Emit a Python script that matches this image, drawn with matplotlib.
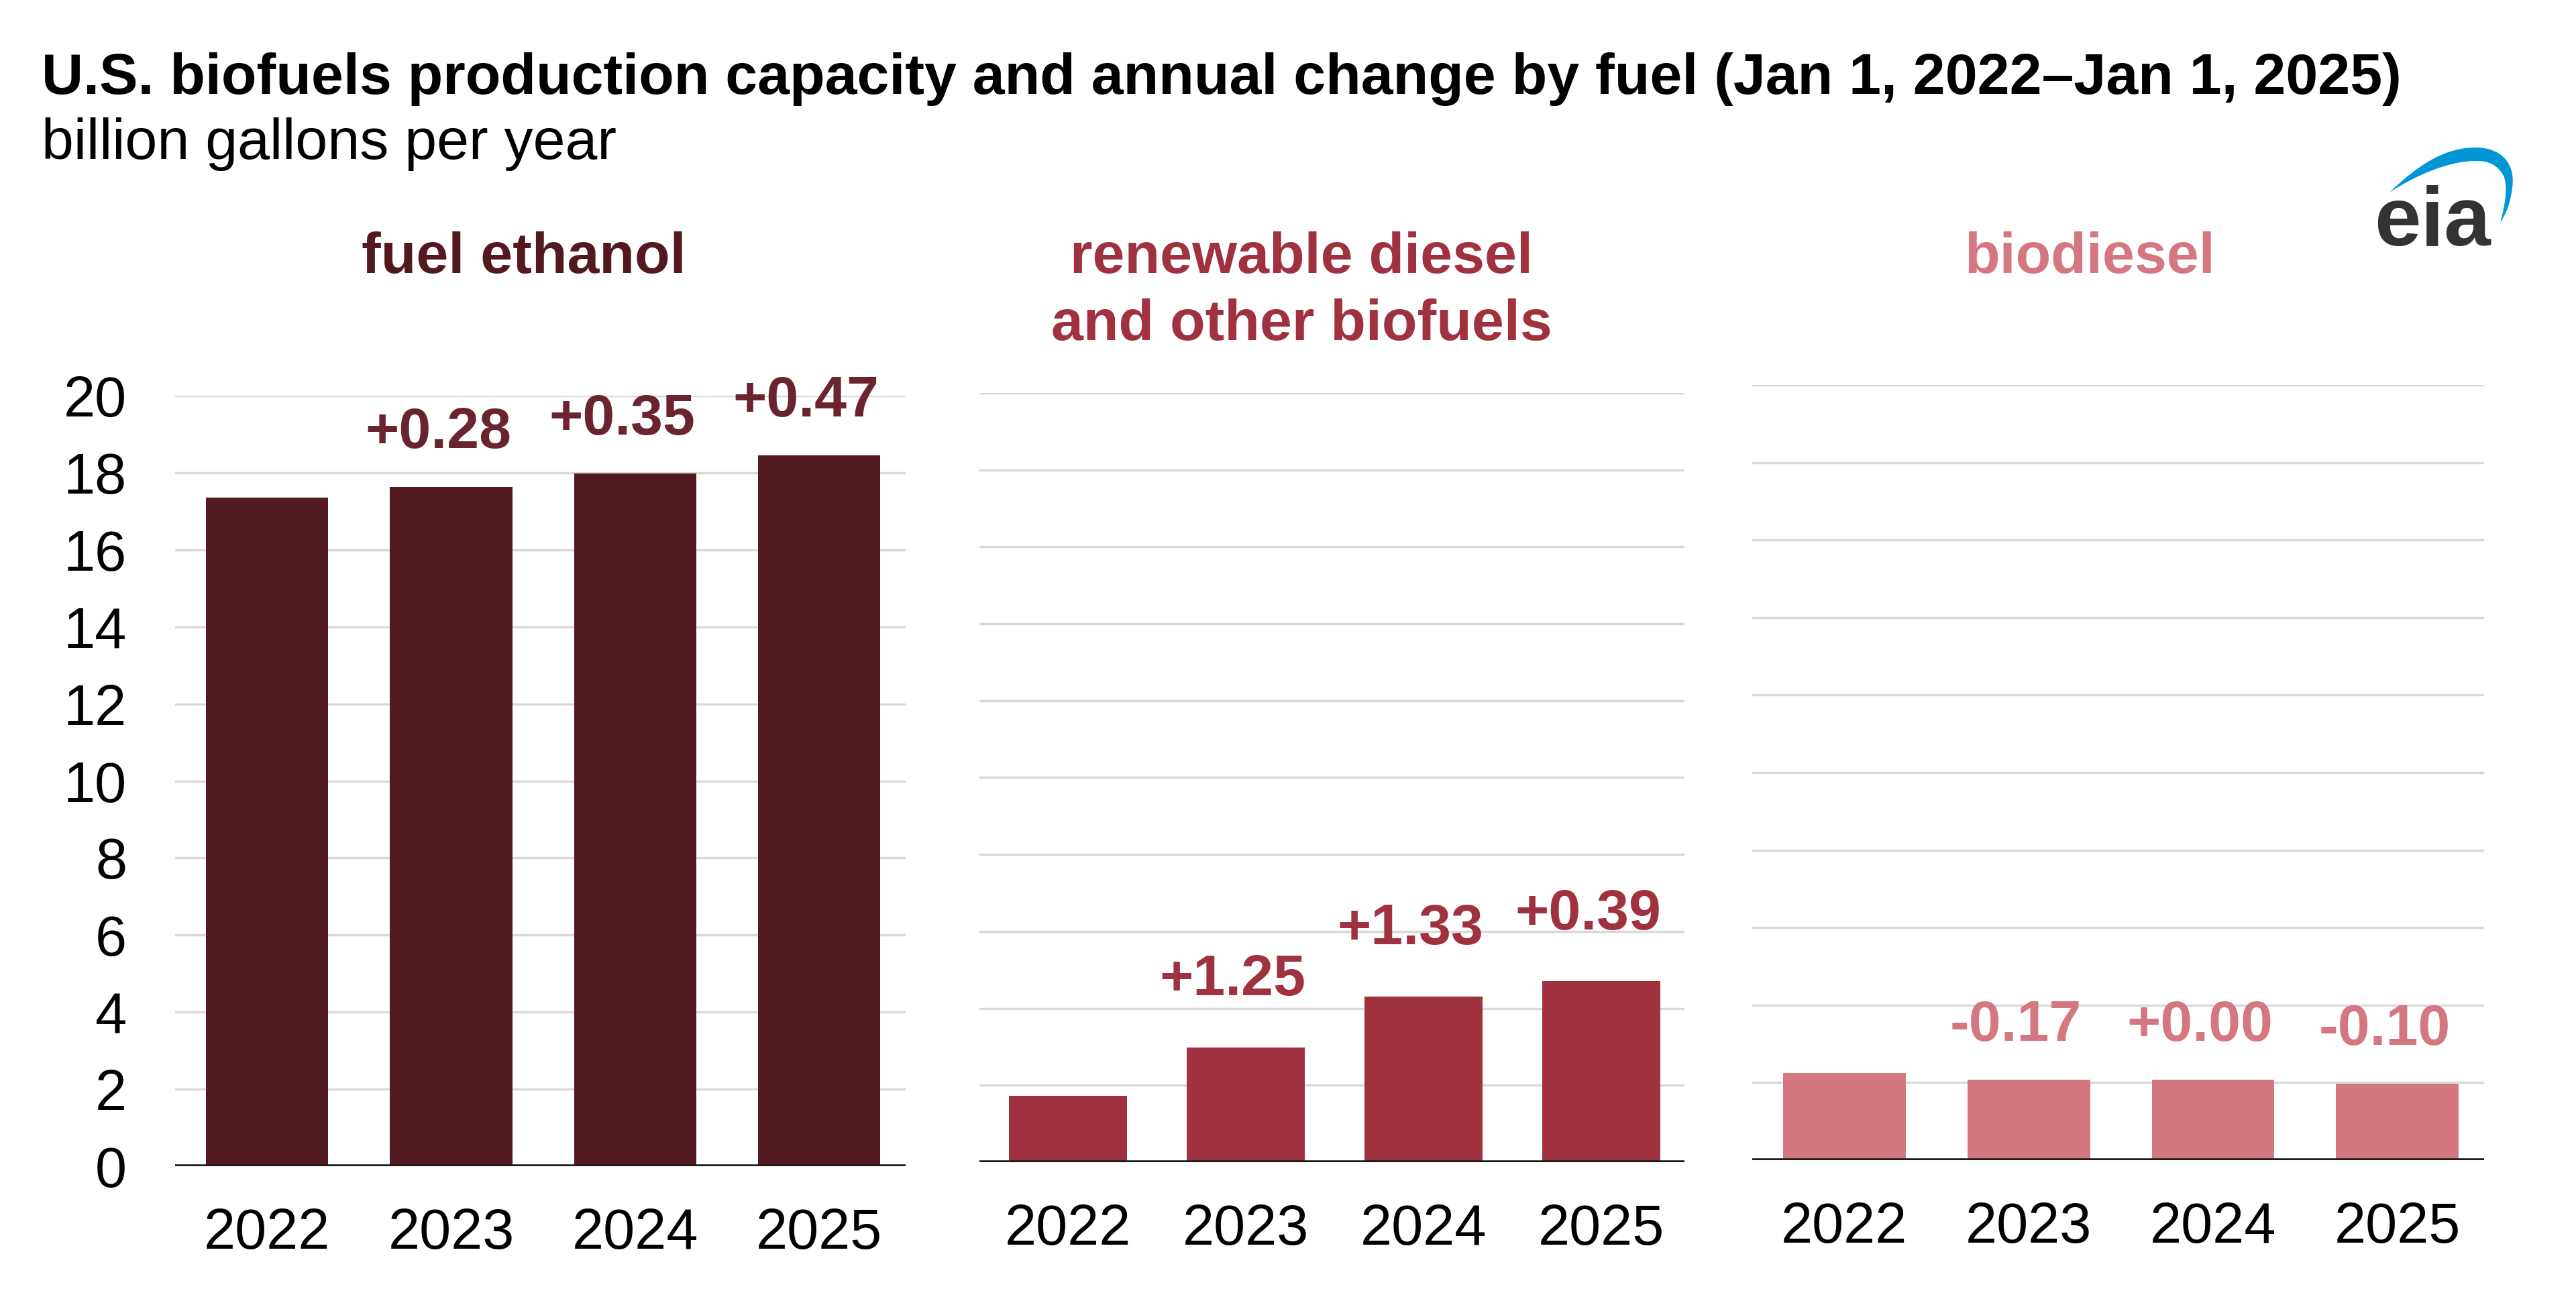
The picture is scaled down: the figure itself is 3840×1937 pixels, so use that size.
import matplotlib.pyplot as plt
from matplotlib.path import Path
from matplotlib.patches import PathPatch

plt.rcParams['font.family'] = ['Liberation Sans', 'DejaVu Sans']

# data (billion gallons per year, Jan 1 of each year)
years = ['2022', '2023', '2024', '2025']
fuels = ['fuel ethanol', 'renewable diesel\nand other biofuels', 'biodiesel']
ethanol = [17.35, 17.63, 17.98, 18.45]
renewable = [1.73, 2.98, 4.31, 4.70]
biodiesel = [2.24, 2.07, 2.07, 1.97]
ethanol_chg = [None, 0.28, 0.35, 0.47]
renewable_chg = [None, 1.25, 1.33, 0.39]
biodiesel_chg = [None, -0.17, 0.00, -0.10]
y_ticks = [0, 2, 4, 6, 8, 10, 12, 14, 16, 18, 20]

colors = ['#521920', '#A03240', '#D47780']
label_colors = ['#6A2430', '#A03240', '#D47780']
label_pad = [42, 56, 42]
title_shift = [25, 45, 42]  # px left of axes centre
values = [ethanol, renewable, biodiesel]
changes = [ethanol_chg, renewable_chg, biodiesel_chg]

W, H = 3840, 1937
fig = plt.figure(figsize=(W / 100, H / 100), dpi=100)

# axes boxes in figure fractions
boxes = [
    [0.0680, 0.1022, 0.2836, 0.5932],
    [0.3802, 0.1053, 0.2737, 0.5922],
    [0.6802, 0.1069, 0.2841, 0.5968],
]

x = list(range(len(years)))
for k in range(3):
    ax = fig.add_axes(boxes[k])
    ax.bar(x, values[k], width=0.665, color=colors[k], zorder=3)
    ax.set_xlim(-0.5, 3.47)
    ax.set_ylim(0, 20)
    ax.set_yticks(y_ticks)
    ax.set_xticks(x)
    ax.set_xticklabels(years)
    for y in y_ticks[1:]:
        ax.axhline(y, color='#D9D9D9', lw=2.5, zorder=1)
    ax.axhline(0, color='#1a1a1a', lw=4, zorder=4, solid_capstyle='butt')
    for s in ax.spines.values():
        s.set_visible(False)
    ax.tick_params(axis='x', length=0, labelsize=61, pad=44)
    ax.tick_params(axis='y', length=0, labelsize=61, pad=52)
    if k > 0:
        ax.tick_params(axis='y', labelleft=False)

    # annual change labels
    for i, chg in enumerate(changes[k]):
        if chg is None:
            continue
        ax.annotate(f"{chg:+.2f}", xy=(i, values[k][i]),
                    xytext=(-14, label_pad[k]),
                    textcoords='offset points', ha='center', va='baseline',
                    fontsize=62, fontweight='bold', color=label_colors[k],
                    annotation_clip=False)

    # panel title, one baseline per line
    b = boxes[k]
    for j, line in enumerate(fuels[k].split('\n')):
        fig.text(b[0] + b[2] / 2 - title_shift[k] / W, 1 - (407 + 100 * j) / H,
                 line, ha='center', va='baseline', fontsize=62,
                 fontweight='bold', color=colors[k])

fig.text(62 / W, 1 - 140 / H,
         'U.S. biofuels production capacity and annual change by fuel (Jan 1, 2022\u2013Jan 1, 2025)',
         fontsize=62, fontweight='bold', va='baseline')
fig.text(62 / W, 1 - 237 / H, 'billion gallons per year', fontsize=62,
         va='baseline')

# eia logo
fig.text(3713 / W, 1 - 366 / H, 'eia', fontsize=90, fontweight='bold',
         color='#333333', ha='right', va='baseline')
pts = [(3562, 287), (3610, 240), (3650, 220), (3690, 220),
       (3730, 220), (3750, 245), (3745, 280),
       (3742, 305), (3735, 320), (3727, 332),
       (3736, 300), (3738, 275), (3732, 262),
       (3722, 245), (3710, 240), (3690, 240),
       (3650, 240), (3600, 262), (3562, 287)]
codes = [Path.MOVETO] + [Path.CURVE4] * 18
verts = [(px / W, 1 - py / H) for px, py in pts]
fig.patches.append(PathPatch(Path(verts, codes), facecolor='#0096D6',
                             edgecolor='none', transform=fig.transFigure))

fig.savefig('out.png', dpi=100)
